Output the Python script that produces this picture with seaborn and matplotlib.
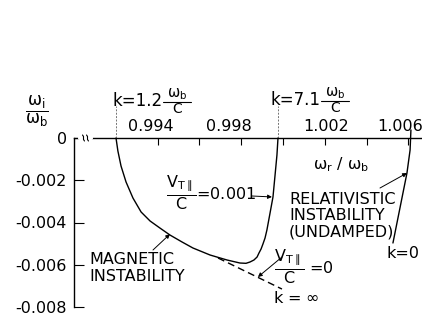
import matplotlib
matplotlib.use("Agg")
import matplotlib.pyplot as plt
from matplotlib.lines import Line2D
from matplotlib.transforms import ScaledTranslation
import pandas as pd
import seaborn as sns

# Magnetic instability branch, V_T||/c = 0.001 (k from 1.2 to 7.1 w_b/c)
mag_wr = [0.99201, 0.99210, 0.99225, 0.99249, 0.99282, 0.99321, 0.99364, 0.99411,
          0.99459, 0.99517, 0.99569, 0.99651, 0.99732, 0.99794, 0.99823, 0.99842,
          0.99861, 0.99876, 0.99885, 0.99895, 0.99904, 0.99914, 0.99923, 0.99938,
          0.99952, 0.99962, 0.99971, 0.99976]
mag_wi = [0.0, -0.000615, -0.001326, -0.002083, -0.00284, -0.003503, -0.003929, -0.004261,
          -0.004592, -0.004923, -0.005207, -0.005539, -0.005775, -0.005918, -0.005932, -0.00587,
          -0.005775, -0.005633, -0.005444, -0.005255, -0.005018, -0.004734, -0.004355, -0.00355,
          -0.002793, -0.001752, -0.000805, 0.0]

# Cold limit V_T||/c = 0, continuing towards k = infinity
cold_wr = [0.99689, 0.99995]
cold_wi = [-0.00568, -0.00715]

# Relativistic (undamped) branch, ending at k = 0
rel_wr = [1.00612, 1.00608, 1.00593, 1.00526]
rel_wi = [0.00038, -0.00057, -0.00166, -0.00497]

x_ticks = [0.994, 0.996, 0.998, 1.000, 1.002, 1.004, 1.006]
x_tick_labels = ["0.994", "", "0.998", "", "1.002", "", "1.006"]
y_ticks = [0.0, -0.002, -0.004, -0.006, -0.008]
y_tick_labels = ["0", "-0.002", "-0.004", "-0.006", "-0.008"]

sns.set_theme(style="white")
plt.rcParams.update({
    "font.family": ["DejaVu Sans"],
    "mathtext.fontset": "dejavusans",
    "mathtext.default": "regular",
    "text.color": "black",
    "axes.edgecolor": "black",
    "xtick.color": "black",
    "ytick.color": "black",
    "axes.linewidth": 1.0,
})

W, H = 422, 322
fig = plt.figure(figsize=(W / 100, H / 100), dpi=100)
fig.patch.set_facecolor("white")
ax = fig.add_axes([74 / W, 1 - 307 / H, 1 - 74 / W, (307 - 138) / H])
ax.set_facecolor("white")


def fp(x, y):
    """pixel position -> figure fraction"""
    return (x / W, 1 - y / H)


mag = pd.DataFrame({"wr": mag_wr, "wi": mag_wi})
cold = pd.DataFrame({"wr": cold_wr, "wi": cold_wi})
rel = pd.DataFrame({"wr": rel_wr, "wi": rel_wi})

sns.lineplot(data=mag, x="wr", y="wi", sort=False, estimator=None, color="black",
             lw=1.0, ax=ax)
sns.lineplot(data=cold, x="wr", y="wi", sort=False, estimator=None, color="black",
             lw=1.0, ax=ax, linestyle=(0, (5, 3)))
sns.lineplot(data=rel, x="wr", y="wi", sort=False, estimator=None, color="black",
             lw=1.0, ax=ax)
for ln in ax.lines:
    ln.set_clip_on(False)

ax.set_xlim(0.9900, 1.00665)
ax.set_ylim(-0.008, 0.0)
ax.set_xlabel("")
ax.set_ylabel("")

for side in ("right", "bottom"):
    ax.spines[side].set_visible(False)

ax.xaxis.tick_top()
ax.set_xticks(x_ticks)
ax.set_xticklabels(x_tick_labels)
ax.set_yticks(y_ticks)
ax.set_yticklabels(y_tick_labels)
ax.tick_params(axis="x", which="both", top=True, bottom=False, labeltop=True,
               labelbottom=False, direction="in", length=5, width=0.8, pad=3,
               labelsize=11.5)
ax.tick_params(axis="y", left=True, direction="in", length=7, width=0.8, pad=5,
               labelsize=11.5)

# hand-lettered labels sit slightly left of their ticks
label_shift = [-7, 0, -12, 0, 1, 0, -8]
for lab, dx in zip(ax.xaxis.get_majorticklabels(), label_shift):
    lab.set_transform(lab.get_transform() + ScaledTranslation(dx / 100, 0, fig.dpi_scale_trans))

# axis break on the frequency axis
fig.add_artist(Line2D([fp(80, 0)[0], fp(91, 0)[0]], [fp(0, 138)[1]] * 2,
                      color="white", lw=3))
for bx in (83.5, 87.5):
    fig.add_artist(Line2D([fp(bx - 1, 0)[0], fp(bx, 0)[0], fp(bx, 0)[0], fp(bx + 1, 0)[0]],
                          [fp(0, 135)[1], fp(0, 136.5)[1], fp(0, 139.5)[1], fp(0, 141)[1]],
                          color="black", lw=0.8))

# connectors from the k labels to the branch end points
for xk in (mag_wr[0], mag_wr[-1]):
    ax.plot([xk, xk], [0.0, 0.0015], color="0.45", lw=0.7, linestyle=(0, (2, 1.5)),
            clip_on=False)

fs = 11.5
fig.text(*fp(37, 111), r"$\dfrac{\omega_i}{\omega_b}$", fontsize=12, ha="center", va="center")


def k_label(x0, y0, value):
    """'k=value' followed by a hand-set w_b / c fraction"""
    fig.text(*fp(x0, y0), f"k={value}", fontsize=12, ha="left", va="center")
    bx0, bx1 = x0 + 50, x0 + 78
    xc = (bx0 + bx1) / 2
    fig.add_artist(Line2D([fp(bx0, 0)[0], fp(bx1, 0)[0]], [fp(0, y0 + 1)[1]] * 2,
                          color="black", lw=0.8))
    fig.text(*fp(xc, y0 - 7), r"$\omega_b$", fontsize=10.5, ha="center", va="center")
    fig.text(*fp(xc, y0 + 8), "C", fontsize=10, ha="center", va="center")


k_label(113, 101, "1.2")
k_label(271, 100, "7.1")

fig.text(*fp(341, 165), r"$\omega_r\ /\ \omega_b$", fontsize=fs, ha="center", va="center")

fig.text(*fp(166, 193), r"$\dfrac{V_{T\parallel}}{C}$=0.001", fontsize=fs, ha="left", va="center")
fig.text(*fp(274, 267), r"$\dfrac{V_{T\parallel}}{C}$ =0", fontsize=fs, ha="left", va="center")

fig.text(*fp(89, 268), "MAGNETIC\nINSTABILITY", fontsize=fs, ha="left", va="center",
         linespacing=1.1)
fig.text(*fp(289, 216), "RELATIVISTIC\nINSTABILITY\n(UNDAMPED)", fontsize=fs, ha="left",
         va="center", linespacing=1.1)
fig.text(*fp(296, 298), r"k = $\infty$", fontsize=fs, ha="center", va="center")
fig.text(*fp(403, 253), "k=0", fontsize=fs, ha="center", va="center")

arrow = dict(arrowstyle="-|>", lw=0.7, color="black", mutation_scale=6,
             shrinkA=0, shrinkB=0)
ax.annotate("", xy=(0.99459, -0.00455), xytext=fp(153, 250),
            textcoords="figure fraction", arrowprops=arrow)
ax.annotate("", xy=(0.99947, -0.00279), xytext=fp(252, 196),
            textcoords="figure fraction", arrowprops=arrow)
ax.annotate("", xy=(0.99880, -0.00658), xytext=fp(282, 257),
            textcoords="figure fraction", arrowprops=arrow)
ax.annotate("", xy=(1.00593, -0.00166), xytext=fp(380, 188),
            textcoords="figure fraction", arrowprops=arrow)

fig.savefig("out.png", dpi=100, facecolor="white")
